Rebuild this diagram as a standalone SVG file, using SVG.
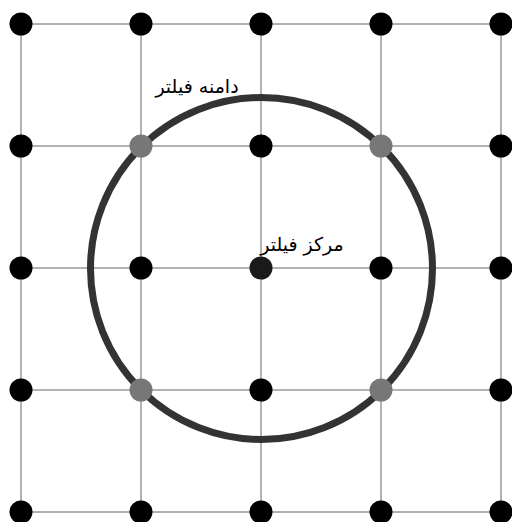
<svg xmlns="http://www.w3.org/2000/svg" width="512" height="522" viewBox="0 0 512 522">
<style>
.g{stroke:#999;stroke-width:1.5;fill:none}
.d{fill:#000}
.gd{fill:#777}
.t{font-family:"DejaVu Sans",sans-serif;font-size:19px;fill:#000;text-anchor:middle}
</style>
<rect width="512" height="522" fill="#fff"/>
<g id="connectors">
<path class="g" d="M21 24V512M141 24V512M261 24V512M381 24V512M501 24V512M21 24H501M21 146H501M21 268H501M21 390H501M21 512H501"/>
</g>
<g id="filter-range"><circle cx="261.5" cy="268.5" r="171" fill="none" stroke="#333" stroke-width="7"/></g>
<g id="nodes">
<circle class="d" cx="21" cy="24" r="11.5"/><circle class="d" cx="141" cy="24" r="11.5"/><circle class="d" cx="261" cy="24" r="11.5"/><circle class="d" cx="381" cy="24" r="11.5"/><circle class="d" cx="501" cy="24" r="11.5"/>
<circle class="d" cx="21" cy="146" r="11.5"/><circle class="gd" cx="141" cy="146" r="11.5"/><circle class="d" cx="261" cy="146" r="11.5"/><circle class="gd" cx="381" cy="146" r="11.5"/><circle class="d" cx="501" cy="146" r="11.5"/>
<circle class="d" cx="21" cy="268" r="11.5"/><circle class="d" cx="141" cy="268" r="11.5"/><circle fill="#1a1a1a" cx="261" cy="268" r="11.5"/><circle class="d" cx="381" cy="268" r="11.5"/><circle class="d" cx="501" cy="268" r="11.5"/>
<circle class="d" cx="21" cy="390" r="11.5"/><circle class="gd" cx="141" cy="390" r="11.5"/><circle class="d" cx="261" cy="390" r="11.5"/><circle class="gd" cx="381" cy="390" r="11.5"/><circle class="d" cx="501" cy="390" r="11.5"/>
<circle class="d" cx="21" cy="512" r="11.5"/><circle class="d" cx="141" cy="512" r="11.5"/><circle class="d" cx="261" cy="512" r="11.5"/><circle class="d" cx="381" cy="512" r="11.5"/><circle class="d" cx="501" cy="512" r="11.5"/>
</g>
<g id="labels">
<text class="t" x="197" y="93">دامنه فیلتر</text>
<text class="t" x="302" y="251">مرکز فیلتر</text>
</g>
</svg>
